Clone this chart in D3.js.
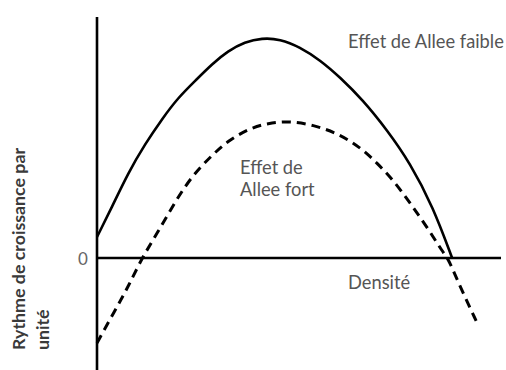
<!DOCTYPE html>
<html>
<head>
<meta charset="utf-8">
<script src="https://cdn.jsdelivr.net/npm/d3@7"></script>
<style>
  html, body { margin: 0; padding: 0; background: #fff; }
  svg { display: block; }
  text { font-family: Lato, "Open Sans", sans-serif; }
</style>
</head>
<body>
<svg id="chart" width="506" height="370"></svg>
<script>
// Densité (0–100) and per-unit growth rate for the two Allee scenarios
const densityWeak = [0, 3.7, 7.7, 11.9, 16.1, 20.0, 24.5, 28.5, 32.4, 36.6, 40.8, 45.3, 50.2, 55.2, 60.1, 65.8, 71.8, 77.5, 83.2, 87.9];
const rateWeak    = [2.1, 5.1, 8.5, 11.4, 13.9, 16.0, 17.8, 19.4, 20.7, 21.6, 22.0, 21.9, 21.1, 19.8, 18.1, 15.8, 12.8, 9.5, 5.1, 0];

const densityStrong = [0, 4.5, 7.7, 11.1, 15.1, 19.3, 23.5, 28.5, 32.4, 37.4, 42.3, 47.8, 53.5, 59.4, 65.1, 69.3, 73.3, 77.5, 81.7, 85.7, 86.9, 89.9, 94.1];
const rateStrong    = [-8.5, -5.2, -2.9, 0, 2.6, 5.6, 8.2, 10.3, 11.7, 12.9, 13.5, 13.7, 13.3, 12.5, 11.1, 9.5, 7.8, 5.5, 3.1, 0.5, 0, -2.9, -6.5];

const labelWeak   = "Effet de Allee faible";
const labelStrong = ["Effet de", "Allee fort"];
const labelX      = "Densité";
const labelY      = ["Rythme de croissance par", "unité"];
const zeroTick    = ["0"];

const svg = d3.select("#chart");

const x = d3.scaleLinear().domain([0, 100]).range([97, 501]);
const y = d3.scaleLinear().domain([-11.2, 24.1]).range([370, 17]);

// Axes: plain lines crossing at the origin
svg.append("line")
  .attr("x1", x(0)).attr("x2", x(0))
  .attr("y1", y(24.1)).attr("y2", y(-11.2))
  .attr("stroke", "#000").attr("stroke-width", 2.6);

svg.append("line")
  .attr("x1", x(0)).attr("x2", x(100))
  .attr("y1", y(0)).attr("y2", y(0))
  .attr("stroke", "#000").attr("stroke-width", 2.6);

svg.selectAll(".tick0").data(zeroTick).join("text")
  .attr("class", "tick0")
  .attr("x", x(0) - 14).attr("y", y(0) + 7)
  .attr("text-anchor", "middle")
  .attr("font-size", 17)
  .attr("fill", "#666")
  .text(d => d);

const line = d3.line()
  .x(d => x(d[0]))
  .y(d => y(d[1]))
  .curve(d3.curveBasis);

svg.append("path")
  .datum(d3.zip(densityWeak, rateWeak))
  .attr("d", line)
  .attr("fill", "none")
  .attr("stroke", "#000")
  .attr("stroke-width", 2.6);

svg.append("path")
  .datum(d3.zip(densityStrong, rateStrong))
  .attr("d", line)
  .attr("fill", "none")
  .attr("stroke", "#000")
  .attr("stroke-width", 3)
  .attr("stroke-dasharray", "9,6");

// Curve labels
svg.append("text")
  .attr("x", 348).attr("y", 48)
  .attr("font-size", 18.3)
  .attr("fill", "#555")
  .text(labelWeak);

svg.selectAll(".strong").data(labelStrong).join("text")
  .attr("class", "strong")
  .attr("x", 240).attr("y", (d, i) => 174 + i * 22)
  .attr("font-size", 18.3)
  .attr("fill", "#555")
  .text(d => d);

svg.append("text")
  .attr("x", 348).attr("y", 289)
  .attr("font-size", 18.3)
  .attr("fill", "#555")
  .text(labelX);

// Vertical axis title, two lines
svg.selectAll(".ytitle").data(labelY).join("text")
  .attr("class", "ytitle")
  .attr("transform", (d, i) => `translate(${25 + i * 24},350) rotate(-90)`)
  .attr("font-size", 17.8)
  .attr("font-weight", 700)
  .attr("fill", "#3a3a3a")
  .text(d => d);
</script>
</body>
</html>
